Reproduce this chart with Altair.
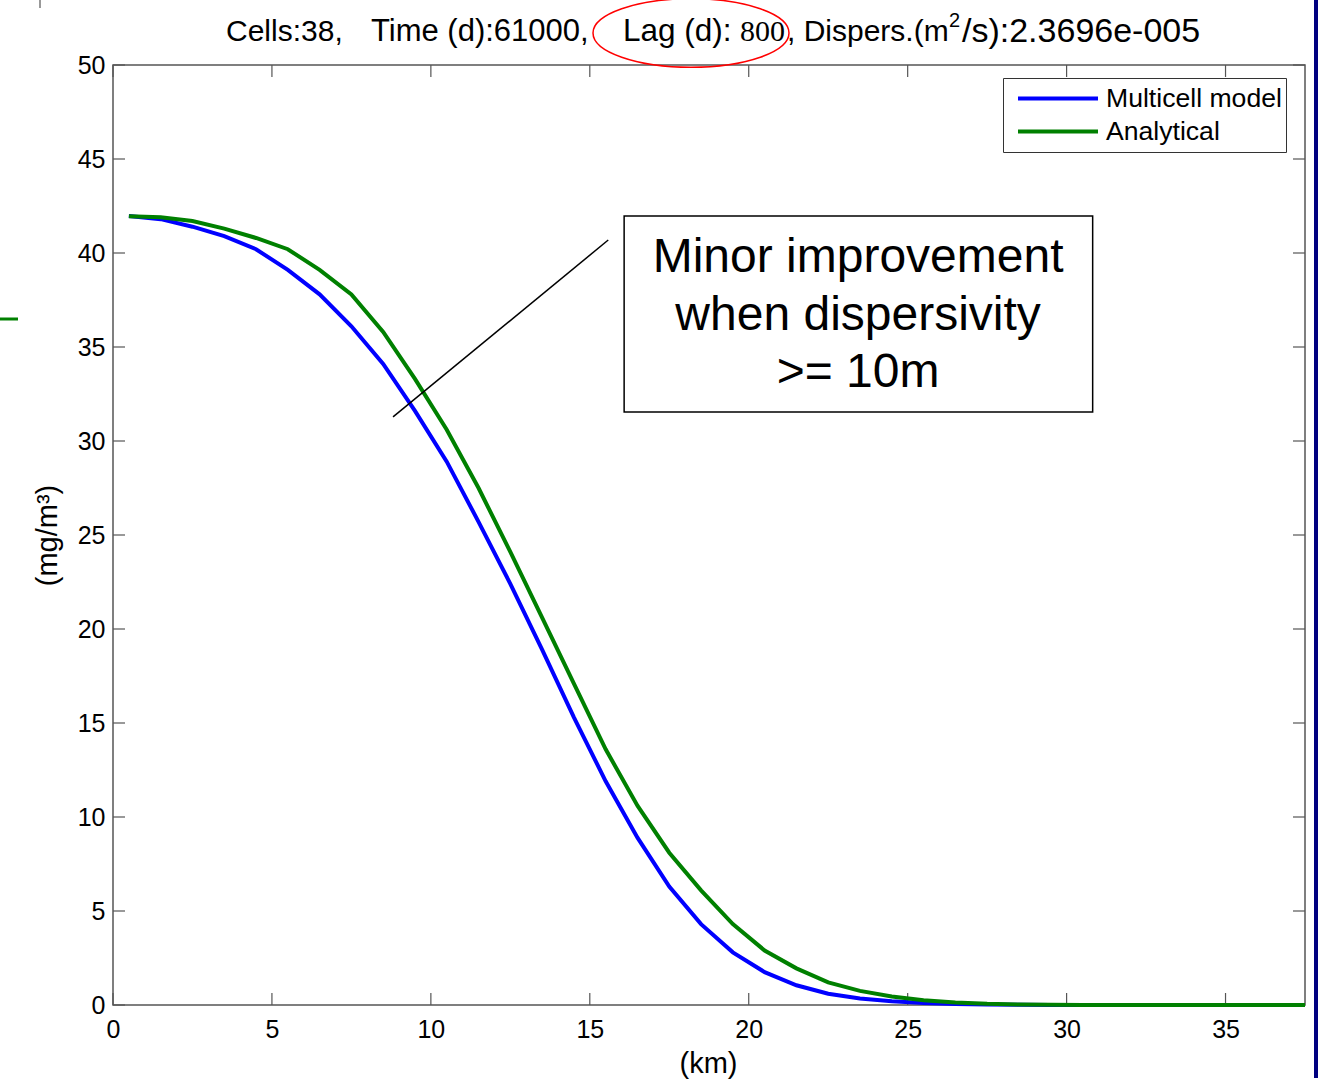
import altair as alt
import pandas as pd

# ---------------- data ----------------
cell_km = [0.5, 1.5, 2.5, 3.5, 4.5, 5.5, 6.5, 7.5, 8.5, 9.5,
           10.5, 11.5, 12.5, 13.5, 14.5, 15.5, 16.5, 17.5, 18.5, 19.5,
           20.5, 21.5, 22.5, 23.5, 24.5, 25.5, 26.5, 27.5, 28.5, 29.5,
           30.5, 31.5, 32.5, 33.5, 34.5, 35.5, 36.5, 37.5]
multicell = [41.97, 41.8, 41.4, 40.9, 40.2, 39.1, 37.8, 36.1, 34.1, 31.6,
             28.9, 25.7, 22.4, 18.9, 15.3, 11.9, 8.9, 6.3, 4.3, 2.8,
             1.75, 1.05, 0.6, 0.35, 0.2, 0.1, 0.05, 0.02, 0.01, 0.0,
             0.0, 0.0, 0.0, 0.0, 0.0, 0.0, 0.0, 0.0]
analytical = [41.95, 41.9, 41.7, 41.3, 40.8, 40.2, 39.1, 37.8, 35.8, 33.3,
              30.6, 27.5, 24.1, 20.6, 17.1, 13.6, 10.6, 8.1, 6.1, 4.3,
              2.9, 1.95, 1.2, 0.75, 0.45, 0.25, 0.13, 0.06, 0.03, 0.01,
              0.0, 0.0, 0.0, 0.0, 0.0, 0.0, 0.0, 0.0]
series_names = ["Multicell model", "Analytical"]
series_colors = ["#0000ff", "#008000"]
x_ticks = [0, 5, 10, 15, 20, 25, 30, 35]
y_ticks = [0, 5, 10, 15, 20, 25, 30, 35, 40, 45, 50]
note_lines = ["Minor improvement", "when dispersivity", ">= 10m"]

FONT = "Liberation Sans"
W, H = 1192, 940

rows = []
for name, vals in zip(series_names, [multicell, analytical]):
    for xv, yv in zip(cell_km, vals):
        rows.append({"x": xv, "y": yv, "series": name})
df = pd.DataFrame(rows)

xscale = alt.Scale(domain=[0, 37.5], nice=False, zero=False)
yscale = alt.Scale(domain=[0, 50], nice=False)
xaxis = alt.Axis(values=x_ticks, title="(km)", labelFontSize=25, labelFont=FONT,
                 titleFont=FONT, titleFontSize=29, titleFontWeight="normal",
                 tickSize=0, domain=False, grid=False, labelPadding=12,
                 labelFlush=False, labelColor="black", titleColor="black",
                 titleX=595, titleY=58, titleBaseline="middle")
yaxis = alt.Axis(values=y_ticks, title="(mg/m³)", labelFontSize=25, labelFont=FONT,
                 titleFont=FONT, titleFontSize=29, titleFontWeight="normal",
                 tickSize=0, domain=False, grid=False, labelPadding=8,
                 labelFlush=False, labelColor="black", titleColor="black",
                 titleAngle=270, titleX=-66, titleY=470, titleBaseline="middle")

X = alt.X("x:Q", scale=xscale, axis=xaxis)
Y = alt.Y("y:Q", scale=yscale, axis=yaxis)

lines = alt.Chart(df).mark_line(strokeWidth=4).encode(
    x=X, y=Y,
    color=alt.Color("series:N", sort=series_names,
                    scale=alt.Scale(domain=series_names, range=series_colors),
                    legend=alt.Legend(title=None, orient="none", legendX=890, legendY=13,
                                      symbolType="stroke", symbolSize=6400,
                                      symbolStrokeWidth=4, labelFontSize=26.6,
                                      labelFont=FONT, labelColor="black", labelLimit=0,
                                      padding=4, strokeColor="#333",
                                      fillColor="white", clipHeight=33,
                                      rowPadding=0, symbolOffset=9, labelOffset=6)),
    order=alt.Order("x:Q")
)

# inward ticks (MATLAB style box)
xt = pd.DataFrame({"x": x_ticks})
yt = pd.DataFrame({"y": y_ticks})
tick_style = dict(color="#555555", strokeWidth=1.2)
t_bottom = alt.Chart(xt).mark_rule(**tick_style).encode(x=X, y=alt.value(H), y2=alt.value(H - 12))
t_top = alt.Chart(xt).mark_rule(**tick_style).encode(x=X, y=alt.value(0), y2=alt.value(12))
t_left = alt.Chart(yt).mark_rule(**tick_style).encode(y=Y, x=alt.value(0), x2=alt.value(12))
t_right = alt.Chart(yt).mark_rule(**tick_style).encode(y=Y, x=alt.value(W), x2=alt.value(W - 12))

# annotation box and pointer
box_df = pd.DataFrame({"x": [16.08], "x2": [30.82], "y": [31.54], "y2": [41.97]})
box = alt.Chart(box_df).mark_rect(fill="white", stroke="black", strokeWidth=1.5).encode(
    x=X, x2="x2:Q", y=Y, y2="y2:Q")
ptr_df = pd.DataFrame({"x": [15.58], "x2": [8.81], "y": [40.69], "y2": [31.28]})
pointer = alt.Chart(ptr_df).mark_rule(color="black", strokeWidth=1.5).encode(
    x=X, x2="x2:Q", y=Y, y2="y2:Q")
note_df = pd.DataFrame({"x": [23.44], "y": [39.73], "t": [note_lines]})
note = alt.Chart(note_df).mark_text(font=FONT, fontSize=48, lineHeight=57.5,
                                    align="center", baseline="middle", color="black").encode(
    x=X, y=Y, text="t")

# title in segments (mixed fonts, superscript)
title_parts = [
    ("Cells:38,", 226, 32, FONT, 30),
    ("Time (d):61000,", 371, 32, FONT, 31),
    ("Lag (d):", 623, 32, FONT, 31.5),
    ("800", 740, 32, "Liberation Serif", 30),
    (", Dispers.(m", 787, 32, FONT, 30),
    ("2", 949, 21, FONT, 20),
    ("/s):2.3696e-005", 962, 32, FONT, 34),
]
title_layers = []
for txt, px, py, fnt, fs in title_parts:
    title_layers.append(
        alt.Chart(pd.DataFrame({"t": [txt]})).mark_text(
            font=fnt, fontSize=fs, align="left", baseline="middle", color="black"
        ).encode(text="t:N", x=alt.value(px - 113), y=alt.value(py - 65))
    )

ellipse = alt.Chart(pd.DataFrame({"k": [0]})).mark_point(
    shape="M -1 0 A 1 0.35 0 1 1 1 0 A 1 0.35 0 1 1 -1 0 Z",
    size=196 * 196, filled=False, stroke="red", strokeWidth=1.5, opacity=1
).encode(x=alt.value(691 - 113), y=alt.value(33 - 65))

# slide artifacts
navy = alt.Chart(pd.DataFrame({"k": [0]})).mark_rule(color="#000080", strokeWidth=4).encode(
    x=alt.value(1316 - 113), y=alt.value(-65), y2=alt.value(1078 - 65))
gdash = alt.Chart(pd.DataFrame({"k": [0]})).mark_rule(color="#008000", strokeWidth=3).encode(
    x=alt.value(-113), x2=alt.value(-95), y=alt.value(319 - 65))
ltick = alt.Chart(pd.DataFrame({"k": [0]})).mark_rule(color="#555555", strokeWidth=1.2).encode(
    x=alt.value(40 - 113), y=alt.value(-65), y2=alt.value(-57))

chart = alt.layer(
    t_bottom, t_top, t_left, t_right, lines, pointer, box, note,
    *title_layers, ellipse, navy, gdash, ltick
).properties(
    width=W, height=H,
    autosize=alt.AutoSizeParams(type="none"),
    padding={"left": 113, "top": 65, "right": 13, "bottom": 77},
    background="white",
).configure_view(stroke="#555555", strokeWidth=1.5)

chart.save("out.html", embed_options={"renderer": "svg", "actions": False})
